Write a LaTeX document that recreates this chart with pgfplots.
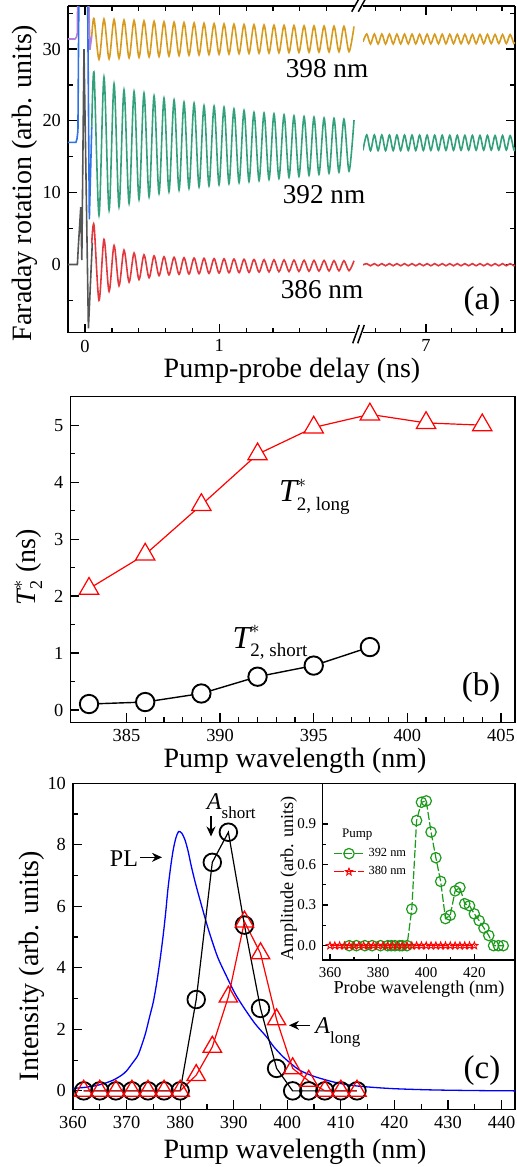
\documentclass[border=0pt]{standalone}
\usepackage{fontspec}
\setmainfont{Liberation Serif}
\usepackage{amsmath}
\usepackage{pgfplots}
\usepackage{pgfplotstable}
\pgfplotsset{compat=1.18}
\usetikzlibrary{arrows.meta}
\DeclareMathSizes{16}{16}{9.5}{7}
\DeclareMathSizes{14}{14}{9}{7}

\definecolor{cOrange}{HTML}{D69B1E}
\definecolor{cTeal}{HTML}{33A07C}
\definecolor{cRedA}{HTML}{E0383C}
\definecolor{cPurple}{HTML}{B57EDC}
\definecolor{cBlueA}{HTML}{2F72E6}
\definecolor{cGrayA}{HTML}{555555}
\definecolor{cGreen}{HTML}{1C9A1C}

% open five-pointed star
\pgfdeclareplotmark{ostar}{%
  \pgfpathmoveto{\pgfqpointpolar{90}{\pgfplotmarksize}}%
  \pgfpathlineto{\pgfqpointpolar{126}{0.42\pgfplotmarksize}}%
  \pgfpathlineto{\pgfqpointpolar{162}{\pgfplotmarksize}}%
  \pgfpathlineto{\pgfqpointpolar{198}{0.42\pgfplotmarksize}}%
  \pgfpathlineto{\pgfqpointpolar{234}{\pgfplotmarksize}}%
  \pgfpathlineto{\pgfqpointpolar{270}{0.42\pgfplotmarksize}}%
  \pgfpathlineto{\pgfqpointpolar{306}{\pgfplotmarksize}}%
  \pgfpathlineto{\pgfqpointpolar{342}{0.42\pgfplotmarksize}}%
  \pgfpathlineto{\pgfqpointpolar{18}{\pgfplotmarksize}}%
  \pgfpathlineto{\pgfqpointpolar{54}{0.42\pgfplotmarksize}}%
  \pgfpathclose\pgfusepathqstroke}

\pgfplotsset{
  base/.style={scale only axis, tick align=inside,
    axis line style={line width=0.75pt},
    every tick/.style={black,line width=0.6pt},
    major tick length=4.5pt, minor tick length=2.5pt,
    tick label style={font=\fontsize{9.2}{11}\selectfont},
    /pgf/number format/assume math mode=true},
}

% panel (a): fitted oscillations, extrema before the break
\pgfplotstableread{
t o g r
0.050 31.80 19.20 3.00
0.067 34.25 26.64 5.45
0.104 28.58 6.88 -5.00
0.141 34.18 26.08 3.50
0.179 28.65 7.57 -3.75
0.216 34.11 25.15 2.65
0.253 28.72 8.03 -2.95
0.290 34.04 24.31 2.00
0.328 28.79 8.51 -2.45
0.365 33.98 24.07 1.60
0.402 28.85 9.07 -2.10
0.439 33.92 23.85 1.35
0.477 28.91 9.43 -1.85
0.514 33.86 23.47 1.20
0.551 28.97 9.90 -1.55
0.588 33.80 23.15 1.08
0.625 29.03 10.13 -1.45
0.663 33.74 22.91 1.00
0.700 29.09 10.36 -1.38
0.737 33.69 22.59 0.95
0.774 29.14 10.60 -1.33
0.812 33.64 22.45 0.90
0.849 29.19 10.82 -1.28
0.886 33.59 22.12 0.86
0.923 29.23 10.96 -1.24
0.961 33.55 22.05 0.82
0.998 29.27 11.11 -1.20
1.035 33.51 21.90 0.79
1.072 29.31 11.25 -1.16
1.109 33.47 21.65 0.76
1.147 29.35 11.40 -1.13
1.184 33.43 21.45 0.73
1.221 29.39 11.55 -1.10
1.258 33.40 21.18 0.70
1.296 29.42 11.69 -1.07
1.333 33.36 21.08 0.67
1.370 29.45 11.84 -1.04
1.407 33.33 20.98 0.65
1.444 29.48 11.98 -1.01
1.482 33.30 20.84 0.63
1.519 29.51 12.13 -0.98
1.556 33.28 20.70 0.61
1.593 29.54 12.27 -0.96
1.631 33.25 20.60 0.59
1.668 29.56 12.42 -0.94
1.705 33.23 20.52 0.57
1.742 29.58 12.56 -0.92
1.780 33.21 20.40 0.56
1.817 29.60 12.71 -0.90
1.854 33.19 20.35 0.54
1.891 29.62 12.85 -0.88
1.928 33.17 20.24 0.53
1.966 29.64 13.00 -0.86
2.003 33.15 20.10 0.52
}\aleft

% panel (a): after the break
\pgfplotstableread{
t o g r
6.378 31.00 15.90 -0.05
6.415 32.10 18.05 0.12
6.452 30.70 15.85 -0.18
6.490 32.10 18.04 0.12
6.527 30.71 15.86 -0.18
6.564 32.09 18.04 0.12
6.601 30.71 15.86 -0.18
6.639 32.09 18.03 0.12
6.676 30.71 15.87 -0.18
6.713 32.08 18.03 0.12
6.750 30.72 15.87 -0.18
6.788 32.08 18.02 0.12
6.825 30.72 15.88 -0.18
6.862 32.08 18.02 0.12
6.899 30.73 15.88 -0.18
6.937 32.07 18.01 0.12
6.974 30.73 15.89 -0.18
7.011 32.07 18.01 0.12
7.048 30.73 15.89 -0.18
7.086 32.06 18.00 0.12
7.123 30.74 15.90 -0.18
7.160 32.06 18.00 0.12
7.197 30.74 15.90 -0.18
7.235 32.06 17.99 0.12
7.272 30.75 15.91 -0.18
7.309 32.05 17.99 0.12
7.346 30.75 15.91 -0.18
7.384 32.05 17.98 0.12
7.421 30.75 15.92 -0.18
7.458 32.04 17.98 0.12
7.495 30.76 15.92 -0.18
7.533 32.04 17.97 0.12
7.570 30.76 15.93 -0.18
7.607 32.04 17.97 0.12
7.644 30.77 15.93 -0.18
7.682 32.03 17.96 0.12
7.719 30.77 15.94 -0.18
7.756 32.03 17.96 0.12
7.793 30.77 15.94 -0.18
7.831 32.02 17.95 0.12
7.868 30.78 15.95 -0.18
7.879 31.00 16.30 -0.10
}\aright

\pgfplotstableread{
wl I
360 0.08
362 0.11
364 0.16
365 0.20
366 0.25
367.5 0.35
369 0.50
370 0.65
371 0.88
372 1.12
372.5 1.32
373.5 1.85
374.3 2.41
375 2.90
375.6 3.49
376.2 4.20
376.8 5.01
377.3 5.80
377.7 6.53
378.2 7.25
378.7 7.83
379.2 8.22
379.7 8.43
380.3 8.38
380.9 8.16
381.5 7.78
382.1 7.29
382.9 6.72
383.7 6.21
384.6 5.65
385.5 5.12
387 4.35
388.7 3.71
390.2 3.18
391.8 2.73
394 2.18
396.1 1.76
397.5 1.43
399.2 1.11
400.8 0.87
402.3 0.67
405 0.47
408.6 0.29
411.5 0.19
414.8 0.13
420 0.07
427.2 0.03
435 0.01
442.5 0.00
}\pl

\begin{document}
\begin{tikzpicture}
\path[use as bounding box] (0,0) rectangle (258pt,-583.5pt);

%================ (a) left part
\begin{axis}[base, at={(34pt,-3pt)}, anchor=north west,
  width=143.5pt, height=163.35pt,
  xmin=-0.127, xmax=2.0104, ymin=-9.5, ymax=36,
  axis x line*=box, axis y line*=left, tick align=inside,
  xtick={0,1}, minor xtick={0.2,0.4,0.6,0.8,1.2,1.4,1.6,1.8},
  ytick={0,10,20,30}, minor ytick={-5,5,15,25,35}]
\addplot[cPurple, line width=0.8pt] coordinates {(-0.13,31.4) (-0.075,31.4) (-0.063,31.7) (-0.057,32.3) (-0.054,40) (0.024,40) (0.036,29.9) (0.050,31.8)};
\addplot[cBlueA, line width=0.8pt] coordinates {(-0.13,17.0) (-0.068,17.0) (-0.060,17.5) (-0.053,18.6) (-0.045,40) (0.018,40) (0.032,6.3) (0.050,19.2)};
\addplot[cGrayA, line width=0.8pt] coordinates {(-0.13,0) (-0.057,0) (-0.050,2.5) (-0.032,8.0) (-0.024,0.6) (-0.008,30.0) (0.025,-8.9) (0.054,3.0)};
\addplot[cOrange, line width=0.8pt, smooth] table[x=t,y=o] {\aleft};
\addplot[cTeal, line width=0.8pt, smooth] table[x=t,y=g] {\aleft};
\addplot[cRedA, line width=0.8pt, smooth] table[x=t,y=r] {\aleft};
\end{axis}

%================ (a) right part
\begin{axis}[base, at={(181.5pt,-3pt)}, anchor=north west,
  width=76pt, height=163.35pt,
  xmin=6.378, xmax=7.879, ymin=-9.5, ymax=36,
  axis x line*=box, axis y line*=right, tick align=inside,
  xtick={7}, minor xtick={6.5,6.75,7.25,7.5,7.75},
  ytick={0,10,20,30}, minor ytick={-5,5,15,25,35}, yticklabels={}]
\addplot[cOrange, line width=0.8pt, smooth] table[x=t,y=o] {\aright};
\addplot[cTeal, line width=0.8pt, smooth] table[x=t,y=g] {\aright};
\addplot[cRedA, line width=0.8pt, smooth] table[x=t,y=r] {\aright};
\end{axis}

%================ (b)
\begin{axis}[base, at={(35.15pt,-198.35pt)}, anchor=north west,
  width=222.35pt, height=162.8pt,
  xmin=382, xmax=405.75, ymin=-0.216, ymax=5.5,
  xtick={385,390,...,405}, minor x tick num=4,
  ytick={0,1,...,5}, minor y tick num=1,
  xtick pos=bottom, ytick pos=left]
\addplot[red, line width=0.6pt, mark=triangle*, mark size=5.6pt, mark options={fill=white, line width=0.6pt}]
  coordinates {(383,2.13) (386,2.73) (389,3.60) (392,4.49) (395,4.96) (398,5.19) (401,5.04) (404,5.00)};
\addplot[black, line width=0.7pt, mark=*, mark size=4.6pt, mark options={fill=white, line width=0.95pt}]
  coordinates {(383,0.105) (386,0.14) (389,0.29) (392,0.585) (395,0.78) (398,1.105)};
\end{axis}

%================ (c)
\begin{axis}[base, at={(36.5pt,-391.65pt)}, anchor=north west,
  width=221pt, height=163pt,
  xmin=360, xmax=442.5, ymin=-0.6, ymax=10,
  xtick={360,370,...,440}, minor x tick num=1,
  ytick={0,2,...,10}, minor y tick num=1,
  xtick pos=bottom, ytick pos=left]
\addplot[blue, line width=0.65pt, smooth] table[x=wl,y=I] {\pl};
\addplot[black, line width=0.6pt, mark=o, mark size=4.4pt, mark options={line width=0.9pt}]
  coordinates {(362,0) (365,0) (368,0) (371,0) (374,0) (377,0) (380,0) (383,2.97) (386,7.43) (389,8.41) (392,5.39) (395,2.68) (398,0.73) (401,0) (404,0) (407,0) (410,0) (413,0)};
\addplot[red, line width=0.6pt, mark=triangle, mark size=5.3pt, mark options={line width=0.65pt}]
  coordinates {(362,0) (365,0) (368,0) (371,0) (374,0) (377,0) (380,0) (383,0.51) (386,1.43) (389,3.06) (392,5.50) (395,4.47) (398,2.32) (401,0.73) (404,0.32) (407,0) (410,0) (413,0)};
\end{axis}

%================ inset
\begin{axis}[base, at={(161.15pt,-391.65pt)}, anchor=north west,
  width=96.35pt, height=88.35pt,
  axis background/.style={fill=white},
  xmin=356.8, xmax=436.9, ymin=-0.106, ymax=1.2,
  xtick={360,380,400,420}, minor x tick num=1,
  ytick={0,0.3,0.6,0.9}, minor y tick num=1,
  xtick pos=bottom, ytick pos=left,
  major tick length=3pt, minor tick length=1.7pt,
  tick label style={font=\fontsize{7.5}{9}\selectfont},
  yticklabel style={xshift=0.5pt, /pgf/number format/fixed, /pgf/number format/fixed zerofill, /pgf/number format/precision=1},
  legend style={draw=none, fill=none, at={(0.045,0.67)}, anchor=north west,
    font=\fontsize{6.2}{7}\selectfont, inner sep=1pt, row sep=-0.5pt},
  legend cell align=left,
  legend image code/.code={\draw[mark repeat=2,mark phase=2] plot coordinates {(0pt,0pt) (7.5pt,0pt) (15pt,0pt)};}]
\addplot[cGreen, line width=0.6pt, dash pattern=on 4pt off 1.2pt, mark=o, mark size=2.6pt, mark options={solid, line width=0.6pt}]
  coordinates {(368,0) (371,0) (374.5,0) (377.5,0) (381,0) (384,0) (385.5,0) (387,0) (389,0) (390,0) (392,0)
  (394,0.27) (396,0.925) (398,1.06) (400,1.07) (402,0.84) (404,0.65) (406,0.475) (408,0.20) (410,0.225)
  (412,0.405) (414,0.43) (416,0.31) (418,0.295) (420,0.235) (422,0.185) (424,0.13) (426,0.075) (428,0) (430,0) (432,0)};
\addlegendentry{392 nm}
\addplot[red, line width=0.6pt, dash pattern=on 5pt off 1pt, mark=ostar, mark size=1.9pt, mark options={solid, line width=0.45pt}]
  coordinates {(360,0) (362,0) (364,0) (366,0) (368,0) (370,0) (372,0) (374,0) (376,0) (378,0) (380,0)
  (382,0) (384,0) (386,0) (388,0) (390,0) (392,0) (394,0) (396,0) (398,0) (400,0) (402,0) (404,0) (406,0)
  (408,0) (410,0) (412,0) (414,0) (416,0) (418,0) (420,0)};
\addlegendentry{380 nm}
\end{axis}

% texts and arrows, positioned in reference pixels
\begin{scope}[x=0.5pt,y=-0.5pt]
\draw[line width=0.75pt] (351.7,11.7) -- (358.5,-0.5) (358.3,11.7) -- (365.1,-0.5);
\draw[line width=0.75pt] (352.7,343.3) -- (359.3,325) (357.7,343.3) -- (364.3,325);
\node[anchor=base, font=\fontsize{13.6}{16}\selectfont] at (327,77.3) {398 nm};
\node[anchor=base, font=\fontsize{13.6}{16}\selectfont] at (324,203.3) {392 nm};
\node[anchor=base, font=\fontsize{13.6}{16}\selectfont] at (322,298.3) {386 nm};
\node[anchor=base, font=\fontsize{16.5}{19}\selectfont] at (482,309) {(a)};
\node[anchor=base, font=\fontsize{14}{16}\selectfont] at (292,377) {Pump-probe delay (ns)};
\node[anchor=base, rotate=90, font=\fontsize{14}{16}\selectfont] at (31.5,183) {Faraday rotation (arb. units)};

\node[anchor=base west, font=\fontsize{16}{19}\selectfont] at (272,501.7) {$\textit{T}^{*}_{\text{2, long}}$};
\node[anchor=base west, font=\fontsize{16}{19}\selectfont] at (225.5,648.3) {$\textit{T}^{*}_{\text{2, short}}$};
\node[anchor=base, font=\fontsize{16.5}{19}\selectfont] at (481,695) {(b)};
\node[anchor=base, font=\fontsize{14}{16}\selectfont] at (295,767) {Pump wavelength (nm)};
\node[anchor=base, rotate=90, font=\fontsize{14}{16}\selectfont] at (35,567) {$\textit{T}^{*}_{\text{2}}$ (ns)};

\node[anchor=base, font=\fontsize{12}{14}\selectfont] at (124,866.7) {PL};
\draw[-{Stealth[length=5pt,width=4.5pt]}, line width=0.6pt] (140,857.3) -- (162,857.3);
\node[anchor=base west, inner sep=0pt, font=\fontsize{12}{14}\selectfont] at (206.5,809.3) {\textit{A}\raisebox{-4.4pt}{\fontsize{8.5}{10}\selectfont short}};
\draw[-{Stealth[length=5pt,width=4.5pt]}, line width=0.6pt] (211,816) -- (211,836.5);
\node[anchor=base west, inner sep=0pt, font=\fontsize{12}{14}\selectfont] at (315,1033.3) {\textit{A}\raisebox{-5pt}{\fontsize{8.5}{10}\selectfont long}};
\draw[-{Stealth[length=5pt,width=4.5pt]}, line width=0.6pt] (310,1025.3) -- (289,1025.3);
\node[anchor=base, font=\fontsize{16.5}{19}\selectfont] at (482,1078) {(c)};
\node[anchor=base, font=\fontsize{14}{16}\selectfont] at (295,1158.3) {Pump wavelength (nm)};
\node[anchor=base, rotate=90, font=\fontsize{14}{16}\selectfont] at (39,966) {Intensity (arb. units)};

\node[anchor=base west, inner sep=0pt, font=\fontsize{6.5}{8}\selectfont] at (341.7,837.3) {Pump};
\node[anchor=base, font=\fontsize{9.1}{11}\selectfont] at (419,993) {Probe wavelength (nm)};
\node[anchor=base, rotate=90, font=\fontsize{9.1}{11}\selectfont] at (293,878.3) {Amplitude (arb. units)};
\end{scope}

\end{tikzpicture}
\end{document}
